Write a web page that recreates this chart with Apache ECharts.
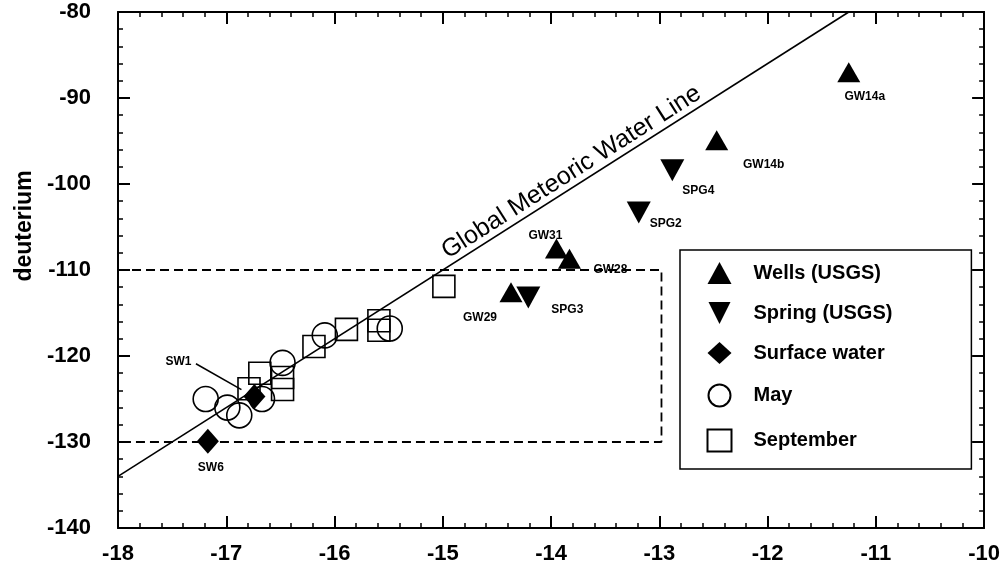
<!DOCTYPE html>
<html><head><meta charset="utf-8">
<script src="https://cdn.jsdelivr.net/npm/echarts@6/dist/echarts.min.js"></script>
<style>html,body{margin:0;padding:0;background:#fff}#c{width:1003px;height:571px}</style>
</head><body><div id="c"></div>
<script>
// ---- data ----
const wellsX = [-11.25, -12.47, -13.95, -13.83, -14.37];
const wellsY = [-87.0, -94.9, -107.5, -108.7, -112.6];
const wellsNames = ['GW14a', 'GW14b', 'GW31', 'GW28', 'GW29'];

const springX = [-12.88, -13.19, -14.21];
const springY = [-98.4, -103.3, -113.2];
const springNames = ['SPG4', 'SPG2', 'SPG3'];

const surfX = [-16.74, -17.17];
const surfY = [-124.7, -129.9];
const surfNames = ['SW1', 'SW6'];

const mayX = [-17.19, -16.99, -16.88, -16.67, -16.48, -16.09, -15.49];
const mayY = [-125.0, -126.0, -126.9, -125.0, -120.8, -117.6, -116.8];

const sepX = [-16.69, -16.79, -16.48, -16.48, -16.19, -15.89, -15.59, -15.59, -14.99];
const sepY = [-122.0, -123.8, -122.5, -123.9, -118.9, -116.9, -115.9, -117.0, -111.9];

// Global Meteoric Water Line: dD = 8 d18O + 10
const gmwlX = [-18, -11.25];
const gmwlY = [-134, -80];
// segment whose middle carries the line's label
const gmwlLabelX = [-15.42, -12.07];

// dashed box
const boxX = [-18, -12.98, -12.98, -18];
const boxY = [-110, -110, -130, -130];

// SW1 leader line
const leaderX = [-17.28, -16.86];
const leaderY = [-120.9, -123.9];

const xTicks = [-18, -17, -16, -15, -14, -13, -12, -11, -10];
const yTicks = [-140, -130, -120, -110, -100, -90, -80];

// ---- label placement (style) ----
const labelOffsets = {
  GW14a: [16, 24], GW14b: [47, 25], GW31: [-11, -13], GW28: [41, 11], GW29: [-31, 25],
  SPG4: [26, 20], SPG2: [27, 11], SPG3: [39, 12], SW1: [-76, -35], SW6: [3, 27]
};

function pts(xs, ys, names) {
  return xs.map((x, i) => {
    const d = { value: [x, ys[i]] };
    if (names) {
      d.name = names[i];
      d.label = { show: true, formatter: names[i], position: 'inside', offset: labelOffsets[names[i]] };
    }
    return d;
  });
}
function line(xs, ys) { return xs.map((x, i) => [x, ys[i]]); }
function gmwl(x) { return 8 * x + 10; }

const ptLabel = { color: '#000', fontFamily: 'Liberation Sans', fontWeight: 'bold', fontSize: 12 };
const downTri = 'path://M0,0L10,0L5,10Z';

const axisCommon = {
  type: 'value',
  axisLine: { show: true, lineStyle: { color: '#000', width: 2 } },
  axisTick: { show: true, inside: true, length: 12, lineStyle: { color: '#000', width: 2 } },
  minorTick: { show: true, splitNumber: 5, length: 5, lineStyle: { color: '#000', width: 1.5 } },
  splitLine: { show: false },
  minorSplitLine: { show: false }
};
const tickFont = { color: '#000', fontFamily: 'Liberation Sans', fontWeight: 'bold', fontSize: 22 };

const option = {
  backgroundColor: '#fff',
  animation: false,
  grid: { left: 118, right: 15, top: 12, bottom: 43 },
  xAxis: [
    Object.assign({}, axisCommon, {
      min: xTicks[0], max: xTicks[xTicks.length - 1], interval: 1, position: 'bottom',
      axisLabel: Object.assign({ margin: 15 }, tickFont)
    }),
    Object.assign({}, axisCommon, {
      min: xTicks[0], max: xTicks[xTicks.length - 1], interval: 1, position: 'top',
      axisLabel: { show: false }
    })
  ],
  yAxis: [
    Object.assign({}, axisCommon, {
      min: yTicks[0], max: yTicks[yTicks.length - 1], interval: 10, position: 'left',
      axisLabel: Object.assign({ margin: 27 }, tickFont),
      name: 'deuterium', nameLocation: 'middle', nameRotate: 90, nameGap: 82,
      nameTextStyle: { color: '#000', fontFamily: 'Liberation Sans', fontWeight: 'bold', fontSize: 23, padding: [0, 0, 0, 88] }
    }),
    Object.assign({}, axisCommon, {
      min: yTicks[0], max: yTicks[yTicks.length - 1], interval: 10, position: 'right',
      axisLabel: { show: false }
    })
  ],
  legend: {
    data: ['Wells (USGS)', 'Spring (USGS)', 'Surface water', 'May', 'September'],
    orient: 'vertical', left: 680, top: 250,
    itemWidth: 24, itemHeight: 22, itemGap: 18,
    padding: [12, 79, 15, 25],
    borderColor: '#000', borderWidth: 1.5, backgroundColor: '#fff',
    textStyle: { color: '#000', fontFamily: 'Liberation Sans', fontWeight: 'bold', fontSize: 20, padding: [0, 0, 0, 17] }
  },
  series: [
    {
      type: 'line', name: 'GMWL', data: line(gmwlX, gmwlY), symbol: 'none',
      lineStyle: { color: '#000', width: 1.6 }, z: 1, silent: true,
      markLine: {
        symbol: 'none', silent: true,
        lineStyle: { color: 'transparent', width: 0 },
        label: { show: true, position: 'insideMiddleTop', formatter: 'Global Meteoric Water Line',
          color: '#000', fontFamily: 'Liberation Sans', fontSize: 25, distance: 1 },
        data: [[{ coord: [gmwlLabelX[0], gmwl(gmwlLabelX[0])] }, { coord: [gmwlLabelX[1], gmwl(gmwlLabelX[1])] }]]
      }
    },
    {
      type: 'line', name: 'box', data: line(boxX, boxY), symbol: 'none',
      lineStyle: { color: '#000', width: 1.8, type: [9, 5] }, z: 1, silent: true
    },
    {
      type: 'line', name: 'leader', data: line(leaderX, leaderY), symbol: 'none',
      lineStyle: { color: '#000', width: 1.5 }, z: 1, silent: true
    },
    {
      type: 'scatter', name: 'September', data: pts(sepX, sepY), symbol: 'rect', symbolSize: 22,
      itemStyle: { color: 'none', borderColor: '#000', borderWidth: 1.6, opacity: 1 }, z: 3
    },
    {
      type: 'scatter', name: 'May', data: pts(mayX, mayY), symbol: 'circle', symbolSize: 25,
      itemStyle: { color: 'none', borderColor: '#000', borderWidth: 1.6, opacity: 1 }, z: 3
    },
    {
      type: 'scatter', name: 'Wells (USGS)', data: pts(wellsX, wellsY, wellsNames), symbol: 'triangle', symbolSize: [23, 20],
      itemStyle: { color: '#000', opacity: 1 }, label: ptLabel, z: 4
    },
    {
      type: 'scatter', name: 'Spring (USGS)', data: pts(springX, springY, springNames), symbol: downTri, symbolSize: [24, 22],
      itemStyle: { color: '#000', opacity: 1 }, label: ptLabel, z: 4
    },
    {
      type: 'scatter', name: 'Surface water', data: pts(surfX, surfY, surfNames), symbol: 'diamond', symbolSize: [22, 25],
      itemStyle: { color: '#000', opacity: 1 }, label: ptLabel, z: 4
    }
  ]
};
const chart = echarts.init(document.getElementById('c'), null, { renderer: 'canvas' });
chart.setOption(option);
</script>
</body></html>
